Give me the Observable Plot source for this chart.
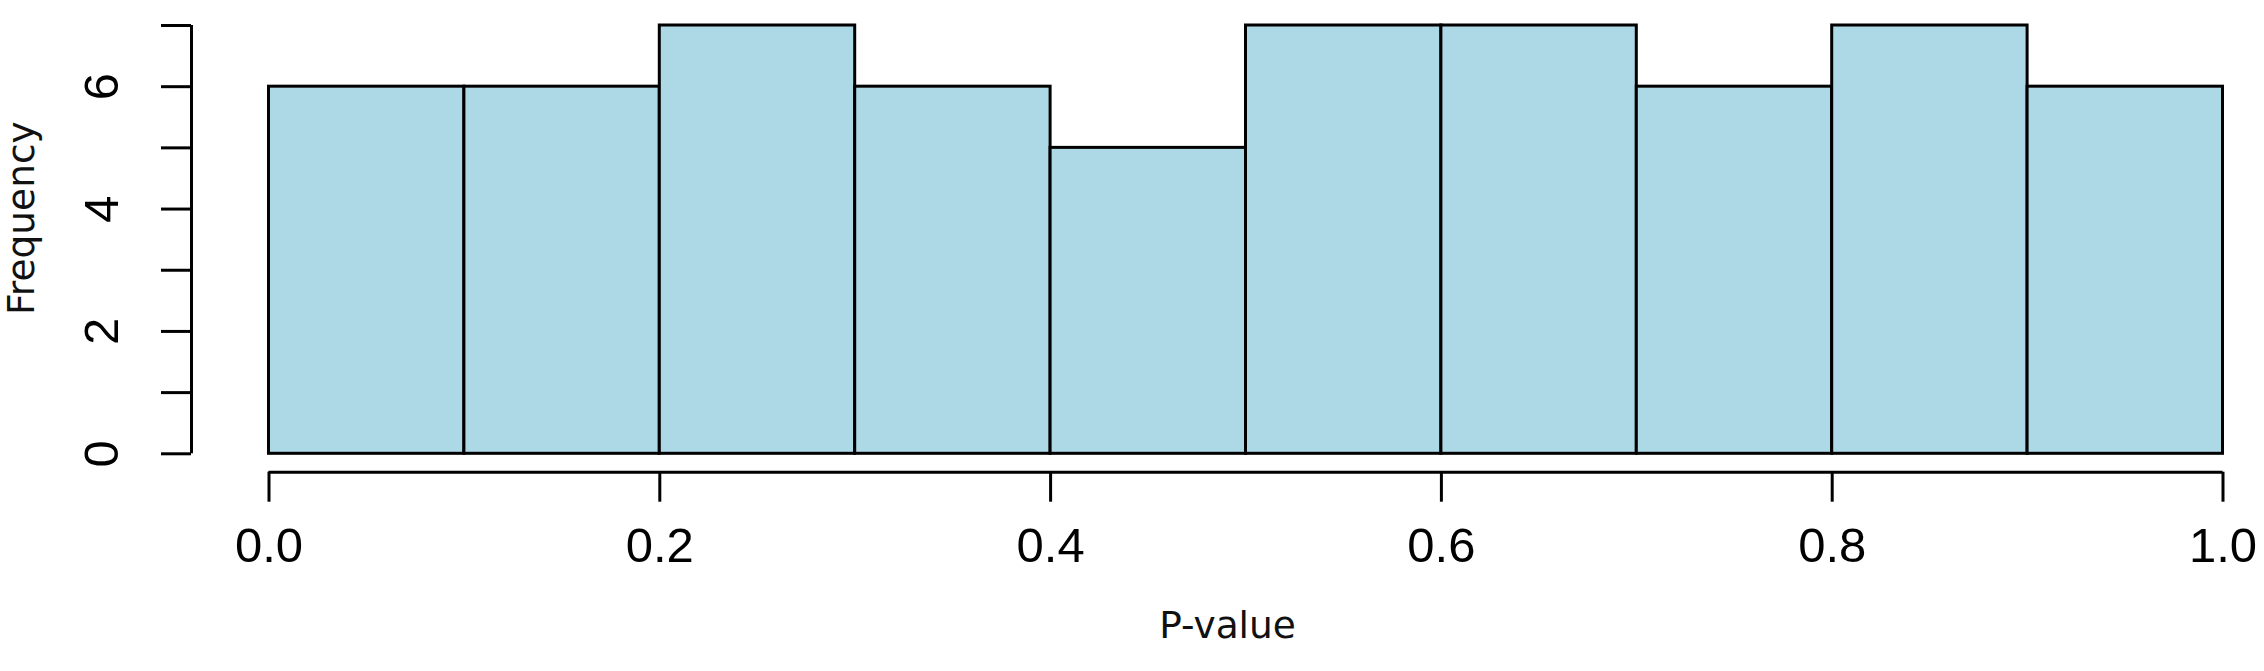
<!DOCTYPE html>
<html>
<head>
<meta charset="utf-8">
<script src="https://cdn.jsdelivr.net/npm/d3@7"></script>
<script src="https://cdn.jsdelivr.net/npm/@observablehq/plot@0.6"></script>
<style>
  html, body { margin: 0; padding: 0; background: #ffffff; }
</style>
</head>
<body>
<div id="chart"></div>
<script>
// Histogram data
const breaks = [0.0, 0.1, 0.2, 0.3, 0.4, 0.5, 0.6, 0.7, 0.8, 0.9, 1.0];
const counts = [6, 6, 7, 6, 5, 7, 7, 6, 7, 6];
const xTicks = [0.0, 0.2, 0.4, 0.6, 0.8, 1.0];
const yTicks = [0, 1, 2, 3, 4, 5, 6, 7];
const yLabels = [0, 2, 4, 6];
const xTitle = "P-value";
const yTitle = "Frequency";

const bins = counts.map((c, i) => ({x1: breaks[i], x2: breaks[i + 1], count: c}));

const tickFont = "Liberation Sans, Arial, sans-serif";
const titleFont = "DejaVu Sans, Verdana, sans-serif";

const chart = Plot.plot({
  width: 2264,
  height: 671,
  marginLeft: 268.5,
  marginRight: 41.5,
  marginTop: 25,
  marginBottom: 217.7,
  style: {background: "#ffffff", overflow: "visible"},
  x: {domain: [0, 1]},
  y: {domain: [0, 7]},
  marks: [
    Plot.rectY(bins, {x1: "x1", x2: "x2", y1: 0, y2: "count", fill: "#add8e6", stroke: "black", strokeWidth: 3}),
    // x axis (offset below the bars, R style)
    Plot.ruleY([0], {x1: xTicks[0], x2: xTicks[xTicks.length - 1], dy: 18.4, stroke: "black", strokeWidth: 3}),
    Plot.axisX(xTicks, {tickSize: 30, dy: 18.4, strokeWidth: 3, stroke: "black", tickFormat: () => "", label: null}),
    Plot.text(xTicks, {x: d => d, text: d => d.toFixed(1), frameAnchor: "bottom", dy: 108.2,
      textAnchor: "middle", fontSize: 49, fontFamily: tickFont, fill: "black"}),
    // y axis (offset left of the bars)
    Plot.ruleX([xTicks[0]], {y1: yTicks[0], y2: yTicks[yTicks.length - 1], dx: -77.5, stroke: "black", strokeWidth: 3}),
    Plot.axisY(yTicks, {tickSize: 30, dx: -77.5, strokeWidth: 3, stroke: "black", tickFormat: () => "", label: null}),
    Plot.text(yLabels, {y: d => d, text: d => String(d), frameAnchor: "left", dx: -166.8, rotate: -90,
      textAnchor: "middle", fontSize: 49, fontFamily: tickFont, fill: "black"}),
    // axis titles
    Plot.text([xTitle], {frameAnchor: "bottom", dy: 184.2, dx: -18.5, textAnchor: "middle",
      fontSize: 37.5, fontFamily: titleFont, fill: "#111"}),
    Plot.text([yTitle], {frameAnchor: "left", dx: -247, dy: -21.5, rotate: -90, textAnchor: "middle",
      fontSize: 37.5, fontFamily: titleFont, fill: "#111"})
  ]
});

document.getElementById("chart").appendChild(chart);
</script>
</body>
</html>
